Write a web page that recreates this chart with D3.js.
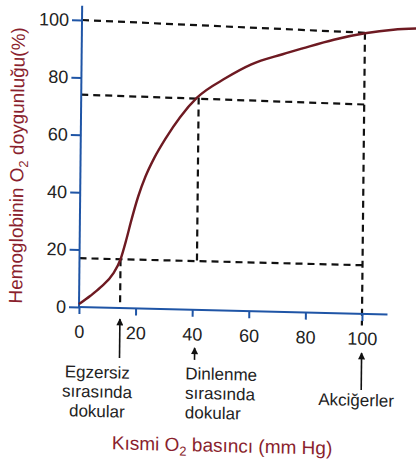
<!DOCTYPE html>
<html><head><meta charset="utf-8">
<script src="https://cdn.jsdelivr.net/npm/d3@7"></script>
<style>
body{margin:0;background:#fff}
svg{display:block}
text{font-family:"Liberation Sans",Arial,Helvetica,sans-serif}
</style>
</head><body>
<svg id="chart" width="416" height="464"></svg>
<script>
// ---- data ----
const pressure   = [0, 4, 7.5, 12, 14.5, 16.5, 18, 20.5, 23, 26, 30, 35, 41, 51, 60, 71, 78, 89, 100, 110, 120];
const saturation = [1, 4, 7, 12, 17, 24, 30, 39, 46, 52.5, 59.5, 67, 74, 81, 86, 89.8, 92, 95.3, 97.8, 99.3, 100];
const xTicks = [0, 20, 40, 60, 80, 100];
const yTicks = [0, 20, 40, 60, 80, 100];
// horizontal guides: [value at left axis, value at right end]
const guideLevels = [[100, 98], [74, 73], [17, 17]];
const guideRightEnd = [100, 100, 100];
// vertical guides: [pressure, from saturation, to saturation]
const guideVerticals = [[14.5, 17, 0], [41.5, 74, 17], [100, 98, -4]];
const markerPressures = [14.5, 41, 100];
const markerLabels = [
  ["Egzersiz", "sırasında", "dokular"],
  ["Dinlenme", "sırasında", "dokular"],
  ["Akciğerler"]
];
const xTitle = ["Kısmi O", "2", " basıncı (mm Hg)"];
const yTitle = ["Hemoglobinin O", "2", " doygunluğu(%)"];

// ---- drawing ----
const svg = d3.select("#chart");
const blue = "#1f55a6", red = "#8a1f2e", ink = "#222";

svg.append("defs").append("marker")
  .attr("id", "ah").attr("viewBox", "0 0 10 10")
  .attr("refX", 9).attr("refY", 5).attr("markerWidth", 8).attr("markerHeight", 7)
  .attr("markerUnits", "userSpaceOnUse").attr("orient", "auto")
  .append("path").attr("d", "M0,0 L10,5 L0,10 Z").attr("fill", "#111");

// slight skew mimicking the scanned page
const g = svg.append("g")
  .attr("transform", "translate(79,307) matrix(1,0.0247,-0.0105,1,0,0) translate(-79,-307)");

const x = d3.scaleLinear().domain([0, 100]).range([79, 362]);
const y = d3.scaleLinear().domain([0, 100]).range([307, 20]);

// dashed guides
const dash = "7,5";
guideLevels.forEach((lv, i) => {
  g.append("line")
    .attr("x1", x(0)).attr("y1", y(lv[0]))
    .attr("x2", x(guideRightEnd[i])).attr("y2", y(lv[1]))
    .attr("stroke", "#111").attr("stroke-width", 2.2).attr("stroke-dasharray", dash);
});
guideVerticals.forEach(v => {
  g.append("line")
    .attr("x1", x(v[0])).attr("y1", y(v[1]))
    .attr("x2", x(v[0])).attr("y2", y(v[2]))
    .attr("stroke", "#111").attr("stroke-width", 2.2).attr("stroke-dasharray", dash);
});

// axes
const ya = g.append("g").attr("transform", `translate(${x(0)},0)`)
  .call(d3.axisLeft(y).tickValues(yTicks).tickSize(10).tickPadding(3));
const xa = g.append("g").attr("transform", `translate(0,${y(0)})`)
  .call(d3.axisBottom(x).tickValues(xTicks).tickSize(7).tickPadding(11));
[ya, xa].forEach(a => {
  a.select(".domain").remove();
  a.selectAll(".tick line").attr("stroke", blue).attr("stroke-width", 2);
  a.selectAll(".tick text").attr("fill", ink).attr("font-size", 18)
    .attr("font-family", "'Liberation Sans', Arial, sans-serif");
});
g.append("line").attr("x1", x(0)).attr("x2", x(0)).attr("y1", y(0) + 1).attr("y2", y(105))
  .attr("stroke", blue).attr("stroke-width", 2);
g.append("line").attr("x1", x(0) - 1).attr("x2", x(109)).attr("y1", y(0)).attr("y2", y(0))
  .attr("stroke", blue).attr("stroke-width", 2);

// curve
const pts = pressure.map((p, i) => [p, saturation[i]]);
g.append("path").datum(pts)
  .attr("d", d3.line().x(d => x(d[0])).y(d => y(d[1])).curve(d3.curveMonotoneX))
  .attr("fill", "none").attr("stroke", "#6e1a22").attr("stroke-width", 2.4);

// arrows + labels under the axis
const arrowSpans = [[357, 318], [357, 345], [383, 346]];
markerPressures.forEach((p, i) => {
  g.append("line")
    .attr("x1", x(p)).attr("x2", x(p))
    .attr("y1", arrowSpans[i][0]).attr("y2", arrowSpans[i][1])
    .attr("stroke", "#111").attr("stroke-width", 1.6)
    .attr("marker-end", "url(#ah)");
});
const labelAnchors = [
  {x: 98, y: 377.5, anchor: "middle"},
  {x: 186, y: 376.5, anchor: "start"},
  {x: 357, y: 399, anchor: "middle"}
];
markerLabels.forEach((lines, i) => {
  const a = labelAnchors[i];
  const t = g.append("text").attr("x", a.x).attr("y", a.y)
    .attr("text-anchor", a.anchor).attr("font-size", 17).attr("fill", ink);
  lines.forEach((s, j) => {
    t.append("tspan").attr("x", a.x).attr("dy", j === 0 ? 0 : 19.5).text(s);
  });
});

// axis titles with subscript
function titled(sel, parts) {
  sel.append("tspan").text(parts[0]);
  sel.append("tspan").attr("font-size", "0.68em").attr("dy", "0.35em").text(parts[1]);
  sel.append("tspan").attr("dy", "-0.24em").text(parts[2]);
}
titled(g.append("text").attr("x", 223.5).attr("y", 448.5)
  .attr("text-anchor", "middle").attr("font-size", 19).attr("fill", red), xTitle);
titled(g.append("text").attr("transform", "translate(22,167) rotate(-90)")
  .attr("text-anchor", "middle").attr("font-size", 19).attr("fill", red), yTitle);
</script>
</body></html>
